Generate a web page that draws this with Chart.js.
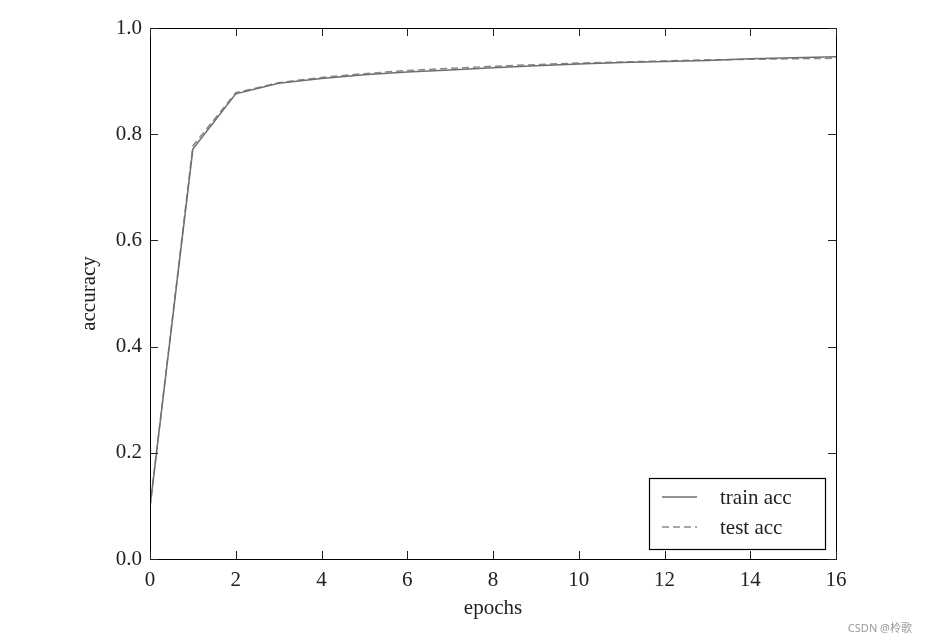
<!DOCTYPE html>
<html>
<head>
<meta charset="utf-8">
<script src="https://cdn.jsdelivr.net/npm/chart.js@4"></script>
<style>
  html, body { margin: 0; padding: 0; background: #fff; }
  #wrap { width: 928px; height: 644px; }
</style>
</head>
<body>
<div id="wrap"><canvas id="chart" width="928" height="644"></canvas></div>
<script>
const epochs = [0, 1, 2, 3, 4, 5, 6, 7, 8, 9, 10, 11, 12, 13, 14, 15, 16];
const trainAcc = [0.098, 0.772, 0.876, 0.896, 0.905, 0.912, 0.917, 0.921, 0.925, 0.929, 0.932, 0.935, 0.937, 0.939, 0.942, 0.944, 0.946];
const testAcc = [0.098, 0.778, 0.878, 0.897, 0.907, 0.914, 0.920, 0.924, 0.928, 0.931, 0.934, 0.936, 0.938, 0.940, 0.941, 0.942, 0.943];
const xTicks = [0, 2, 4, 6, 8, 10, 12, 14, 16];
const yTicks = [0.0, 0.2, 0.4, 0.6, 0.8, 1.0];

const serif = "'Liberation Serif', 'DejaVu Serif', serif";
const lineColor = "#6e6e6e";

// frame, inward ticks on all four sides, legend box and watermark
const framePlugin = {
    id: "frame",
    afterDraw(chart) {
        const ctx = chart.ctx;
        const a = chart.chartArea;
        const xs = chart.scales.x;
        const ys = chart.scales.y;
        ctx.save();
        ctx.strokeStyle = "#000";
        ctx.lineWidth = 1;
        ctx.strokeRect(a.left + 0.5, a.top + 0.5, a.right - a.left, a.bottom - a.top);

        ctx.strokeStyle = "#222";
        xTicks.forEach(v => {
            const px = Math.round(xs.getPixelForValue(v)) + 0.5;
            ctx.beginPath();
            ctx.moveTo(px, a.bottom); ctx.lineTo(px, a.bottom - 8);
            ctx.moveTo(px, a.top); ctx.lineTo(px, a.top + 8);
            ctx.stroke();
        });
        yTicks.forEach(v => {
            const py = Math.round(ys.getPixelForValue(v)) + 0.5;
            ctx.beginPath();
            ctx.moveTo(a.left, py); ctx.lineTo(a.left + 8, py);
            ctx.moveTo(a.right, py); ctx.lineTo(a.right - 8, py);
            ctx.stroke();
        });

        // legend
        const lx = a.right - 187, ly = a.bottom - 81, lw = 176, lh = 71;
        ctx.fillStyle = "#fff";
        ctx.fillRect(lx, ly, lw, lh);
        ctx.strokeStyle = "#000";
        ctx.lineWidth = 1.2;
        ctx.strokeRect(lx + 0.5, ly + 0.5, lw, lh);
        const ds = chart.data.datasets;
        ds.forEach((d, i) => {
            const yy = ly + 19 + i * 30;
            ctx.strokeStyle = d.borderColor;
            ctx.lineWidth = d.borderWidth;
            ctx.setLineDash(d.borderDash || []);
            ctx.beginPath();
            ctx.moveTo(lx + 13, yy); ctx.lineTo(lx + 48, yy);
            ctx.stroke();
            ctx.setLineDash([]);
            ctx.fillStyle = "#222";
            ctx.font = "21px " + serif;
            ctx.textBaseline = "middle";
            ctx.textAlign = "left";
            ctx.fillText(d.label, lx + 71, yy + 1);
        });

        // watermark
        ctx.fillStyle = "#9a9a9a";
        ctx.font = "11px 'Noto Sans', 'Noto Sans CJK SC', sans-serif";
        ctx.textAlign = "right";
        ctx.textBaseline = "middle";
        ctx.fillText("CSDN @柃歌", 912, 629);
        ctx.restore();
    }
};

const c = document.getElementById("chart");
new Chart(c, {
    type: "line",
    data: {
        labels: epochs,
        datasets: [{
            label: "train acc",
            data: trainAcc,
            borderColor: lineColor,
            borderWidth: 1.5,
            pointRadius: 0,
            tension: 0
        }, {
            label: "test acc",
            data: testAcc,
            borderColor: "#8a8a8a",
            borderWidth: 1.5,
            borderDash: [7, 4],
            pointRadius: 0,
            tension: 0
        }]
    },
    options: {
        responsive: false,
        animation: false,
        layout: { padding: { left: 77, right: 92, top: 28, bottom: 23 } },
        plugins: {
            legend: { display: false },
            tooltip: { enabled: false }
        },
        scales: {
            x: {
                type: "linear",
                min: 0,
                max: 16,
                grid: { display: false },
                border: { display: false },
                afterBuildTicks: s => { s.ticks = xTicks.map(v => ({ value: v })); },
                afterFit: s => { s.height = 62; },
                ticks: { color: "#222", padding: 1, font: { family: serif, size: 21 } },
                title: { display: true, text: "epochs", color: "#222", padding: 0, font: { family: serif, size: 21 } }
            },
            y: {
                min: 0,
                max: 1,
                grid: { display: false },
                border: { display: false },
                afterBuildTicks: s => { s.ticks = yTicks.map(v => ({ value: v })); },
                afterFit: s => { s.width = 73; },
                ticks: {
                    color: "#222",
                    padding: 0,
                    font: { family: serif, size: 21 },
                    callback: v => v.toFixed(1)
                },
                title: { display: true, text: "accuracy", color: "#222", padding: 0, font: { family: serif, size: 21 } }
            }
        }
    },
    plugins: [framePlugin]
});
</script>
</body>
</html>
